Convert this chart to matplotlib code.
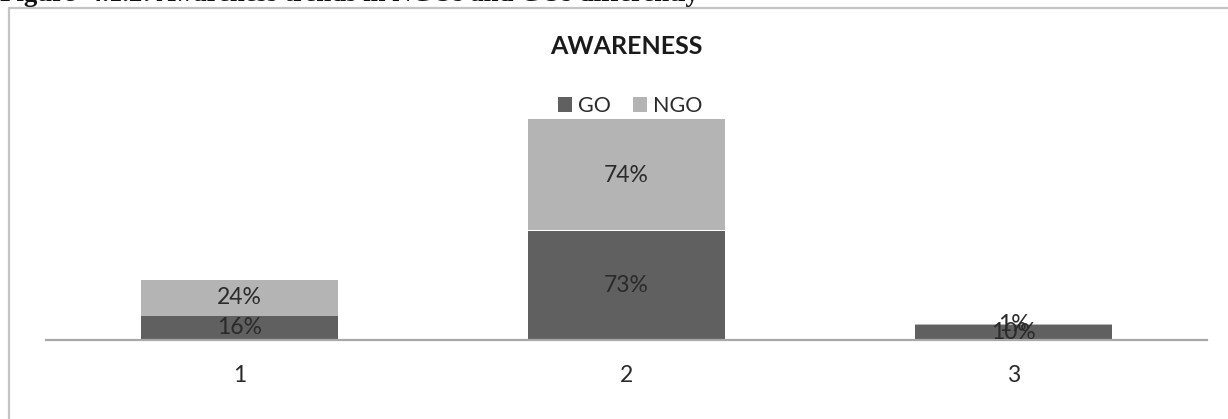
import matplotlib
matplotlib.use("Agg")
import matplotlib.pyplot as plt
from matplotlib.patches import Rectangle
import numpy as np

categories = ["1", "2", "3"]
go_vals = [16, 73, 10]
ngo_vals = [24, 74, 1]

W, H = 1228, 419
DPI = 100
go_color = "#606060"
ngo_color = "#b4b4b4"
text_color = "#2a2a2a"

plt.rcParams["font.family"] = ["Lato", "DejaVu Sans"]

fig = plt.figure(figsize=(W / DPI, H / DPI), dpi=DPI)

def px(x0, y0, w, h):
    # pixel box (from top-left) -> figure fraction rect
    return [x0 / W, 1 - (y0 + h) / H, w / W, h / H]

# outer chart frame
fig.patches.append(Rectangle((9 / W, -0.05), 1.2, 1 - 8 / H + 0.05,
                             transform=fig.transFigure, fill=False,
                             edgecolor="#c4c4c4", linewidth=1.6))

# caption sitting above the frame (mostly cropped)
fig.text(0.0, 1 - 0.6 / H, "Figure  4.1.2: Awareness trends in NGOs and GOs differently",
         fontsize=19.3, fontweight="bold", family=["Liberation Serif"],
         ha="left", va="baseline", color="#111111")

ax = fig.add_axes(px(46, 115, 1161, 225))
x = np.arange(len(categories))
bw = 0.51
ax.bar(x, go_vals, bw, color=go_color, label="GO")
ax.bar(x, ngo_vals, bw, bottom=go_vals, color=ngo_color, label="NGO")

for i in range(len(categories)):
    ax.text(x[i], go_vals[i] / 2, "%d%%" % go_vals[i], ha="center", va="center",
            fontsize=16.5, color=text_color)
    ax.text(x[i], go_vals[i] + ngo_vals[i] / 2, "%d%%" % ngo_vals[i], ha="center",
            va="center", fontsize=16.5, color=text_color)

ax.set_xlim(-0.5, 2.5)
ax.set_ylim(0, 150)
ax.set_yticks([])
ax.set_xticks(x)
ax.set_xticklabels(categories, fontsize=16.5, color=text_color)
ax.tick_params(axis="x", length=0, pad=18)
for s in ["top", "right", "left"]:
    ax.spines[s].set_visible(False)
ax.spines["bottom"].set_color("#a8a8a8")
ax.spines["bottom"].set_linewidth(1.6)
ax.patch.set_alpha(0)

fig.text(626 / W, 1 - 46 / H, "AWARENESS", ha="center", va="center",
         fontsize=18, fontweight="bold", color="#1a1a1a")

fig.legend(loc="center", bbox_to_anchor=(630 / W, 1 - 106 / H), ncol=2,
           frameon=False, fontsize=15.5, handlelength=0.65, handleheight=0.65,
           handletextpad=0.3, columnspacing=1.0, labelcolor=text_color)

fig.savefig("out.png", dpi=DPI)
